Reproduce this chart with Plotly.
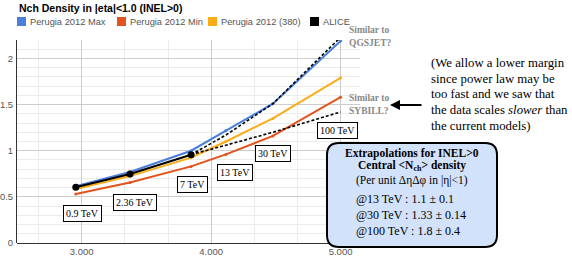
import numpy as np
import plotly.graph_objects as go

# ---------------- data ----------------
energies_tev = [0.9, 2.36, 7, 13, 30, 100]
perugia_max = [0.615, 0.77, 1.0, 1.22, 1.51, 2.19]
perugia_min = [0.53, 0.655, 0.83, 0.96, 1.16, 1.58]
perugia_380 = [0.585, 0.725, 0.925, 1.10, 1.35, 1.79]
alice_energies = [0.9, 2.36, 7]
alice = [0.605, 0.748, 0.957]
extrap_energies = [7, 13, 30, 100]
extrap_upper = [0.957, 1.17, 1.51, 2.23]
extrap_lower = [0.957, 1.06, 1.20, 1.42]
energy_labels = ["0.9 TeV", "2.36 TeV", "7 TeV", "13 TeV", "30 TeV", "100 TeV"]
x_tick_vals = [3, 4, 5]
x_tick_text = ["3.000", "4.000", "5.000"]
y_tick_vals = [0, 0.5, 1, 1.5, 2]
y_tick_text = ["0", "0.5", "1", "1.5", "2"]
legend_names = ["Perugia 2012 Max", "Perugia 2012 Min", "Perugia 2012 (380)", "ALICE"]
colors = ["#4a80dc", "#e2531f", "#fbad17", "#000000"]


def lx(e):
    return list(np.log10(np.array(e, dtype=float) * 1000.0))


W, H = 572, 259
L, R, T, B = 17, 360, 40, 243


def px(x):
    return (x - L) / (R - L)


def py(y):
    return (B - y) / (B - T)


fig = go.Figure()

series = [perugia_max, perugia_min, perugia_380]
for vals, col, name in zip(series, colors[:3], legend_names[:3]):
    fig.add_trace(go.Scatter(x=lx(energies_tev), y=vals, mode="lines+markers",
                             line=dict(color=col, width=2),
                             marker=dict(color=col, size=3),
                             name=name, showlegend=False))

for vals in [extrap_upper, extrap_lower]:
    fig.add_trace(go.Scatter(x=lx(extrap_energies), y=vals, mode="lines",
                             line=dict(color="#000", width=1.6, dash="3px,2px"),
                             showlegend=False))

fig.add_trace(go.Scatter(x=lx(alice_energies), y=alice, mode="lines+markers",
                         line=dict(color="#000", width=2),
                         marker=dict(color="#000", size=7),
                         name="ALICE", showlegend=False))

annotations = []
shapes = []

# title
annotations.append(dict(x=px(17), y=py(8), xref="paper", yref="paper",
                        text="<b>Nch Density in |eta|&lt;1.0 (INEL&gt;0)</b>",
                        showarrow=False, xanchor="left", yanchor="middle",
                        font=dict(family="Liberation Sans, Arial", size=10.5, color="#000")))

# legend
leg_x = [17, 117, 208, 310]
for lxp, name, col in zip(leg_x, legend_names, colors):
    shapes.append(dict(type="rect", xref="paper", yref="paper",
                       x0=px(lxp), x1=px(lxp + 9), y0=py(26), y1=py(17),
                       fillcolor=col, line=dict(width=0)))
    annotations.append(dict(x=px(lxp + 11), y=py(21.5), xref="paper", yref="paper",
                            text=name, showarrow=False, xanchor="left", yanchor="middle",
                            font=dict(family="Liberation Sans, Arial", size=9.3, color="#555")))

# energy label boxes
label_pos = [(82, 213), (135, 202), (192, 184), (235, 172), (273, 153), (337, 130)]
for txt, (cx, cy) in zip(energy_labels, label_pos):
    annotations.append(dict(x=px(cx), y=py(cy), xref="paper", yref="paper", text=txt,
                            showarrow=False, xanchor="center", yanchor="middle",
                            bgcolor="#fff", bordercolor="#000", borderwidth=1, borderpad=2,
                            font=dict(family="Liberation Serif, Times New Roman", size=10, color="#000")))

# "Similar to" notes
serif = "Liberation Serif, Times New Roman"
for txt, yy in [("Similar to", 30), ("QGSJET?", 43), ("Similar to", 98), ("SYBILL?", 111)]:
    annotations.append(dict(x=px(347), y=py(yy), xref="paper", yref="paper",
                            text="<b>" + txt + "</b>", showarrow=False,
                            xanchor="left", yanchor="middle",
                            font=dict(family=serif, size=9.5, color="#888")))

# arrow
annotations.append(dict(x=px(390), y=py(105), xref="paper", yref="paper", text="",
                        showarrow=True, ax=33, ay=0, arrowhead=2, arrowsize=1,
                        arrowwidth=2, arrowcolor="#000"))

# paragraph
para = ["(We allow a lower margin", "since power law may be", "too fast and we saw that",
        "the data scales <i>slower</i> than", "the current models)"]
for i, line in enumerate(para):
    annotations.append(dict(x=px(429), y=py(63 + i * 15.7), xref="paper", yref="paper",
                            text=line, showarrow=False, xanchor="left", yanchor="middle",
                            font=dict(family=serif, size=12.8, color="#000")))

# rounded box
x0, x1, y0, y1, r = 327, 497, 143, 247, 12


def P(x, y):
    return f"{px(x):.5f},{py(y):.5f}"


path = (f"M {P(x0 + r, y0)} L {P(x1 - r, y0)} Q {P(x1, y0)} {P(x1, y0 + r)} "
        f"L {P(x1, y1 - r)} Q {P(x1, y1)} {P(x1 - r, y1)} "
        f"L {P(x0 + r, y1)} Q {P(x0, y1)} {P(x0, y1 - r)} "
        f"L {P(x0, y0 + r)} Q {P(x0, y0)} {P(x0 + r, y0)} Z")
shapes.append(dict(type="path", xref="paper", yref="paper", path=path,
                   fillcolor="#d3e2fb", line=dict(color="#000", width=2), layer="above"))

box_lines = [("<b>Extrapolations for INEL&gt;0</b>", 153),
             ("<b>Central &lt;N<sub>ch</sub>&gt; density</b>", 166),
             ("(Per unit ΔηΔφ in |η|&lt;1)", 181)]
for txt, yy in box_lines:
    annotations.append(dict(x=px(412), y=py(yy), xref="paper", yref="paper", text=txt,
                            showarrow=False, xanchor="center", yanchor="middle",
                            font=dict(family=serif, size=11.5, color="#000")))
for txt, yy in [("@13 TeV : 1.1 ± 0.1", 199), ("@30 TeV : 1.33 ± 0.14", 215),
                ("@100 TeV : 1.8 ± 0.4", 231)]:
    annotations.append(dict(x=px(354), y=py(yy), xref="paper", yref="paper", text=txt,
                            showarrow=False, xanchor="left", yanchor="middle",
                            font=dict(family=serif, size=12, color="#000")))

fig.update_layout(
    width=W, height=H,
    margin=dict(l=L, r=W - R, t=T, b=H - B, pad=0),
    paper_bgcolor="#fff", plot_bgcolor="#fff",
    showlegend=False,
    annotations=annotations, shapes=shapes,
    xaxis=dict(range=[2.5, 5.15], tickvals=x_tick_vals, ticktext=x_tick_text,
               showgrid=True, gridcolor="#cccccc", gridwidth=1,
               minor=dict(tick0=3, dtick=1 / 3, showgrid=True, gridcolor="#ebebeb"),
               zeroline=False, showline=False, ticks="",
               tickfont=dict(family="Liberation Sans, Arial", size=9.5, color="#555"),
               automargin=False, ticklabelstandoff=1),
    yaxis=dict(range=[0, 2.2], tickvals=y_tick_vals, ticktext=y_tick_text,
               showgrid=True, gridcolor="#cccccc", gridwidth=1,
               minor=dict(dtick=0.1, showgrid=True, gridcolor="#ebebeb"),
               zeroline=True, zerolinecolor="#333", zerolinewidth=1,
               showline=True, linecolor="#333", linewidth=1, ticks="",
               tickfont=dict(family="Liberation Sans, Arial", size=9.5, color="#555"),
               automargin=False, ticklabelstandoff=1),
)

fig.write_html("out.html", config={"displayModeBar": False},
               post_script="document.body.style.margin='0';")
